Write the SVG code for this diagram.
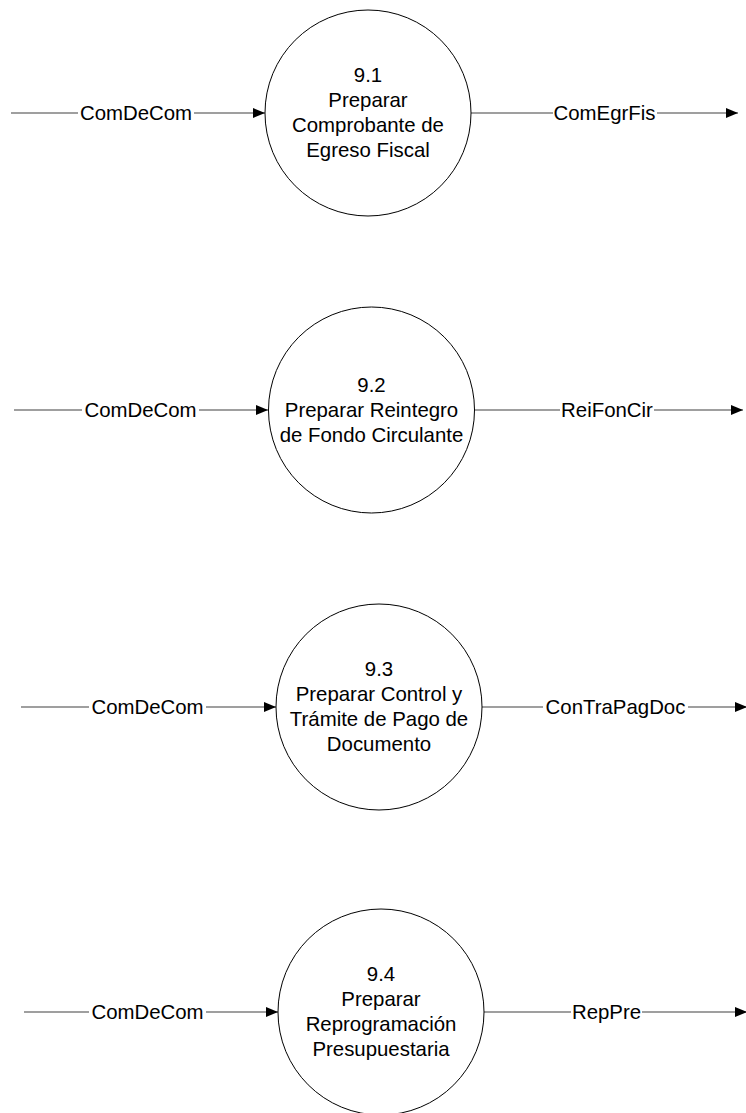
<svg xmlns="http://www.w3.org/2000/svg" width="746" height="1113" viewBox="0 0 746 1113">
<style>
.bg{fill:#fff}
.proc{fill:#fff;stroke:#000;stroke-width:1}
.flow{stroke:#404040;stroke-width:1.2;fill:none;marker-end:url(#arr)}
.t{font-family:"Liberation Sans",Arial,sans-serif;font-size:20.4px;fill:#000;text-anchor:middle}
.lb{fill:#fff}
</style>
<defs>
<marker id="arr" markerUnits="userSpaceOnUse" markerWidth="13" markerHeight="11" refX="12.5" refY="5.5" orient="auto">
<path d="M0.5,0.5 L12.5,5.5 L0.5,10.5 z" fill="#000"/>
</marker>
</defs>
<rect class="bg" x="0" y="0" width="746" height="1113"/>
<g id="connectors">
<line class="flow" x1="11" y1="113" x2="265" y2="113"/>
<line class="flow" x1="471" y1="113" x2="738" y2="113"/>
<line class="flow" x1="14" y1="410" x2="268" y2="410"/>
<line class="flow" x1="475" y1="410" x2="743" y2="410"/>
<line class="flow" x1="21" y1="707" x2="276" y2="707"/>
<line class="flow" x1="482" y1="707" x2="747" y2="707"/>
<line class="flow" x1="24" y1="1012" x2="278" y2="1012"/>
<line class="flow" x1="484" y1="1012" x2="747" y2="1012"/>
<rect class="lb" x="78" y="103" width="116" height="20"/>
<text class="t" x="136" y="120">ComDeCom</text>
<rect class="lb" x="553" y="103" width="104" height="20"/>
<text class="t" x="604.5" y="120">ComEgrFis</text>
<rect class="lb" x="82" y="400" width="117" height="20"/>
<text class="t" x="140.5" y="417">ComDeCom</text>
<rect class="lb" x="560" y="400" width="94" height="20"/>
<text class="t" x="607" y="417">ReiFonCir</text>
<rect class="lb" x="89" y="697" width="117" height="20"/>
<text class="t" x="147.5" y="714">ComDeCom</text>
<rect class="lb" x="543" y="697" width="145" height="20"/>
<text class="t" x="615.5" y="714">ConTraPagDoc</text>
<rect class="lb" x="89" y="1002" width="117" height="20"/>
<text class="t" x="147.5" y="1019">ComDeCom</text>
<rect class="lb" x="571" y="1002" width="71" height="20"/>
<text class="t" x="606.5" y="1019">RepPre</text>
</g>
<g id="p9_1">
<circle class="proc" cx="368" cy="113" r="103"/>
<text class="t" x="368" y="82">9.1</text>
<text class="t" x="368" y="107">Preparar</text>
<text class="t" x="368" y="132">Comprobante de</text>
<text class="t" x="368" y="157">Egreso Fiscal</text>
</g>
<g id="p9_2">
<circle class="proc" cx="371.5" cy="410" r="103"/>
<text class="t" x="371.5" y="392">9.2</text>
<text class="t" x="371.5" y="417">Preparar Reintegro</text>
<text class="t" x="371.5" y="442">de Fondo Circulante</text>
</g>
<g id="p9_3">
<circle class="proc" cx="379" cy="707" r="103"/>
<text class="t" x="379" y="675.5">9.3</text>
<text class="t" x="379" y="700.5">Preparar Control y</text>
<text class="t" x="379" y="725.5">Trámite de Pago de</text>
<text class="t" x="379" y="750.5">Documento</text>
</g>
<g id="p9_4">
<circle class="proc" cx="381" cy="1012" r="103"/>
<text class="t" x="381" y="981">9.4</text>
<text class="t" x="381" y="1006">Preparar</text>
<text class="t" x="381" y="1031">Reprogramación</text>
<text class="t" x="381" y="1056">Presupuestaria</text>
</g>
</svg>
